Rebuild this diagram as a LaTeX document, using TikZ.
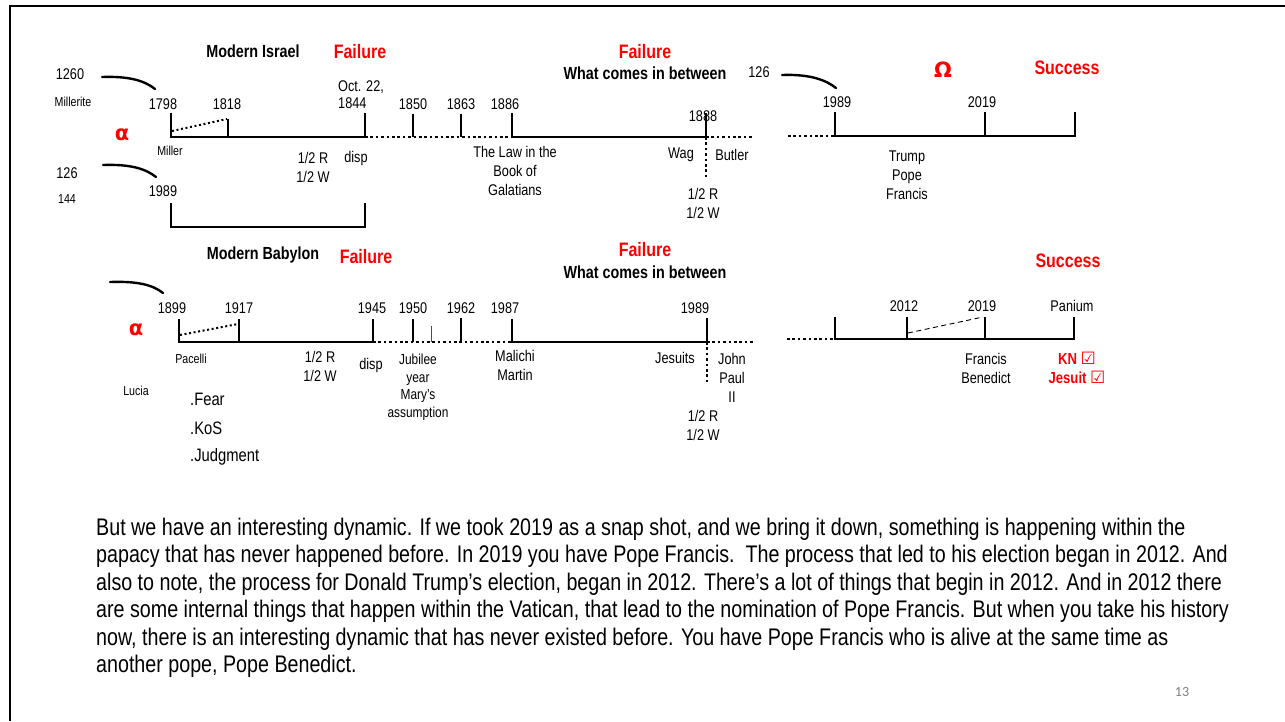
\documentclass[tikz,border=0pt]{standalone}
\usepackage{fontspec}
\setmainfont{Liberation Sans}[FakeStretch=0.82]
\newfontfamily\djvsans{DejaVu Sans}
\newfontfamily\slidenumfont{Carlito}
\usetikzlibrary{positioning}

\tikzset{
	year/.style={inner sep=0pt, font=\fontsize{15.5}{17}\selectfont},
	note/.style={inner sep=0pt, align=center, font=\fontsize{15.5}{19}\selectfont},
	smallnote/.style={inner sep=0pt, font=\fontsize{13}{15}\selectfont},
	head/.style={inner sep=0pt, font=\bfseries\fontsize{17.5}{20}\selectfont},
	verdict/.style={inner sep=0pt, text=red, font=\bfseries\fontsize{19.5}{22}\selectfont},
	greek/.style={inner sep=0pt, text=red, font=\djvsans\bfseries\fontsize{21}{24}\selectfont},
	point/.style={inner sep=0pt, anchor=west, font=\fontsize{18}{21}\selectfont},
	para/.style={inner sep=0pt, anchor=base west, font=\fontsize{24}{27}\selectfont},
	axis/.style={line width=2.6pt, line join=miter},
	dotaxis/.style={line width=2.6pt, dash pattern=on 2.6pt off 2.8pt},
	slope/.style={line width=2pt, dash pattern=on 2pt off 2.6pt},
	hook/.style={line width=2.4pt, line cap=round}
}

\begin{document}
\begin{tikzpicture}[x=1pt,y=-1pt]
	\useasboundingbox (0,0) rectangle (1285,721);
	\draw[line width=2pt] (10,721) -- (10,6) -- (1285,6);

	% Modern Israel
	\node [head] (isr) at (253,51) {Modern Israel};
	\node [verdict] (fail1) at (360,52) {Failure};
	\node [year] (n1260) at (70,74) {1260};
	\node [smallnote] (mlt) at (73,102) {Millerite};
	\node [year] (y1798) at (163,104) {1798};
	\node [year] (y1818) at (227,104) {1818};
	\node [greek] (alpha1) at (122,135) {α};
	\node [smallnote] (mil) at (170,151) {Miller};
	\node [year, align=left, anchor=west] (oct) at (338,95) {Oct. 22,\\1844};
	\node [year] (y1850) at (413,104) {1850};
	\node [year] (y1863) at (461,104) {1863};
	\node [year] (y1886) at (505,104) {1886};
	\node [year] (y1888) at (703,116) {1888};
	\node [note] (rw1) at (313,167) {1/2 R\\1/2 W};
	\node [note] (disp1) at (356,158) {disp};
	\node [note] (law) at (515,171) {The Law in the\\Book of\\Galatians};
	\node [note] (wag) at (681,155) {Wag};
	\node [note] (but) at (732,155) {Butler};
	\node [note] (rw2) at (703,203) {1/2 R\\1/2 W};
	\node [verdict] (fail2) at (645,52) {Failure};
	\node [head] (betw1) at (645,73) {What comes in between};
	\node [year] (n126b) at (759,72) {126};
	\node [greek] (omega) at (943,70) {Ω};
	\node [verdict] (succ1) at (1067,68) {Success};
	\node [year] (s1989) at (837,102) {1989};
	\node [year] (s2019) at (982,102) {2019};
	\node [note] (trump) at (907,175) {Trump\\Pope\\Francis};
	\node [year] (n126) at (67,173) {126};
	\node [smallnote] (n144) at (67,199) {144};
	\node [year] (y1989) at (163,191) {1989};

	\coordinate (a1798) at (171,137);
	\coordinate (a1818) at (228,137);
	\coordinate (a1844) at (365,137);
	\coordinate (a1850) at (413,137);
	\coordinate (a1863) at (461,137);
	\coordinate (a1886) at (512,137);
	\coordinate (a1888) at (706,137);
	\coordinate (aend) at (752,137);
	\draw[axis] (a1798) ++(0,-24) -- (a1798) -- (a1844) -- ++(0,-24);
	\draw[axis] (a1818) -- ++(0,-18);
	\draw[slope] (172,131) -- (227,119);
	\draw[dotaxis] (a1844) -- (a1886);
	\draw[axis] (a1850) -- ++(0,-23);
	\draw[axis] (a1863) -- ++(0,-23);
	\draw[axis] (a1886) ++(0,-24) -- (a1886) -- (a1888) -- ++(0,-24);
	\draw[dotaxis] (a1888) -- (aend);
	\draw[dotaxis] (a1888) -- ++(0,40);
	\draw[axis] (171,203) -- (171,227) -- (365,227) -- (365,203);

	\coordinate (k1) at (102,77);
	\coordinate (k2) at (155,89);
	\draw[hook] (k1) .. controls +(28,-1) and +(-10,-8) .. (k2);
	\coordinate (k3) at (103,165);
	\coordinate (k4) at (156,177);
	\draw[hook] (k3) .. controls +(28,-1) and +(-10,-8) .. (k4);
	\coordinate (k5) at (782,75);
	\coordinate (k6) at (836,88);
	\draw[hook] (k5) .. controls +(28,-1) and +(-10,-8) .. (k6);

	\coordinate (r0) at (788,136);
	\coordinate (r1989) at (835,136);
	\coordinate (r2019) at (985,136);
	\coordinate (rend) at (1075,136);
	\draw[dotaxis] (r0) -- (r1989);
	\draw[axis] (r1989) ++(0,-24) -- (r1989) -- (rend) -- ++(0,-24);
	\draw[axis] (r2019) -- ++(0,-24);

	% Modern Babylon
	\node [head] (bab) at (263,255) {Modern Babylon};
	\node [verdict] (fail3) at (366,257) {Failure};
	\node [year] (y1899) at (172,308) {1899};
	\node [year] (y1917) at (239,308) {1917};
	\node [greek] (alpha2) at (136,330) {α};
	\node [year] (y1945) at (372,308) {1945};
	\node [year] (y1950) at (413,308) {1950};
	\node [year] (y1962) at (461,308) {1962};
	\node [year] (y1987) at (505,308) {1987};
	\node [year] (b1989) at (695,308) {1989};
	\node [smallnote] (pac) at (191,359) {Pacelli};
	\node [note] (rw3) at (320,366) {1/2 R\\1/2 W};
	\node [note] (disp2) at (371,365) {disp};
	\node [note, font=\fontsize{14.5}{17.5}\selectfont] (jub) at (418,387) {Jubilee\\year\\Mary's\\assumption};
	\node [smallnote] (luc) at (136,391) {Lucia};
	\node [point] (fear) at (190,399) {.Fear};
	\node [point] (kos) at (190,428) {.KoS};
	\node [point] (judg) at (190,457) {.Judgment};
	\node [note] (mal) at (515,365) {Malichi\\Martin};
	\node [note] (jes) at (675,358) {Jesuits};
	\node [note] (jp) at (732,378) {John\\Paul\\II};
	\node [note] (rw4) at (703,425) {1/2 R\\1/2 W};
	\node [verdict] (fail4) at (645,250) {Failure};
	\node [head] (betw2) at (645,272) {What comes in between};
	\node [verdict] (succ2) at (1068,261) {Success};
	\node [year] (s2012) at (904,306) {2012};
	\node [year] (s2019b) at (982,306) {2019};
	\node [year] (pan) at (1072,306) {Panium};
	\node [note] (fb) at (986,368) {Francis\\Benedict};
	\node [note, text=red, font=\bfseries\fontsize{16}{19}\selectfont] (kn) at (1077,368) {KN {\djvsans\fontsize{17}{19}\selectfont ☑}\\Jesuit {\djvsans\fontsize{17}{19}\selectfont ☑}};

	\coordinate (b1899) at (179,342);
	\coordinate (b1917) at (239,342);
	\coordinate (b1945) at (373,342);
	\coordinate (b1950) at (413,342);
	\coordinate (bmark) at (431,342);
	\coordinate (b1962) at (461,342);
	\coordinate (b1987) at (512,342);
	\coordinate (b1989) at (707,342);
	\coordinate (bend) at (753,342);
	\draw[axis] (b1899) ++(0,-23) -- (b1899) -- (b1945) -- ++(0,-23);
	\draw[axis] (b1917) -- ++(0,-23);
	\draw[slope] (180,335) -- (238,324);
	\draw[dotaxis] (b1945) -- (b1987);
	\draw[axis] (b1950) -- ++(0,-23);
	\draw[line width=0.8pt, black!70] (bmark) -- ++(0,-16);
	\draw[axis] (b1962) -- ++(0,-24);
	\draw[axis] (b1987) ++(0,-23) -- (b1987) -- (b1989) -- ++(0,-24);
	\draw[dotaxis] (b1989) -- (bend);
	\draw[dotaxis] (b1989) -- ++(0,40);

	\coordinate (k7) at (110,282);
	\coordinate (k8) at (163,293);
	\draw[hook] (k7) .. controls +(28,-1) and +(-10,-8) .. (k8);

	\coordinate (q0) at (787,339);
	\coordinate (q1) at (835,339);
	\coordinate (q2012) at (907,339);
	\coordinate (q2019) at (985,339);
	\coordinate (qend) at (1074,339);
	\draw[dotaxis] (q0) -- (q1);
	\draw[axis] (q1) ++(0,-22) -- (q1) -- (qend) -- ++(0,-22);
	\draw[axis] (q2012) -- ++(0,-22);
	\draw[axis] (q2019) -- ++(0,-22);
	\draw[line width=0.9pt, dash pattern=on 5pt off 3.5pt] (908,333) -- (983,317);

	% text
	\node [para] (p1) at (96,535) {But we have an interesting dynamic. If we took 2019 as a snap shot, and we bring it down, something is happening within the};
	\node [para] (p2) at (96,562.5) {papacy that has never happened before. In 2019 you have Pope Francis.\ \ The process that led to his election began in 2012. And};
	\node [para] (p3) at (96,590) {also to note, the process for Donald Trump’s election, began in 2012. There's a lot of things that begin in 2012. And in 2012 there};
	\node [para] (p4) at (96,617.5) {are some internal things that happen within the Vatican, that lead to the nomination of Pope Francis. But when you take his history};
	\node [para] (p5) at (96,645) {now, there is an interesting dynamic that has never existed before. You have Pope Francis who is alive at the same time as};
	\node [para] (p6) at (96,672.5) {another pope, Pope Benedict.};
	\node [inner sep=0pt, text=black!50, font=\slidenumfont\fontsize{14}{16}\selectfont] (pg) at (1182,692) {13};
\end{tikzpicture}
\end{document}
